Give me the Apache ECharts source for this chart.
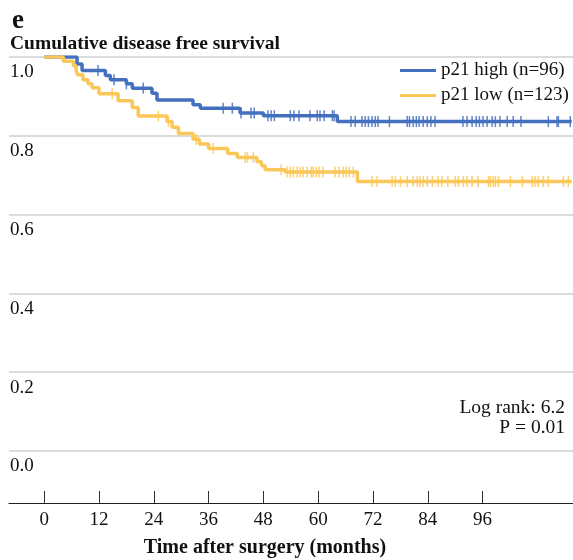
<!DOCTYPE html>
<html><head><meta charset="utf-8">
<script src="https://cdn.jsdelivr.net/npm/echarts@6/dist/echarts.min.js"></script>
<style>html,body{margin:0;padding:0;background:#fff}#c{width:573px;height:560px}</style>
</head><body><div id="c"></div>
<script>
// ---- data ----
const highName = 'p21 high (n=96)';
const lowName = 'p21 low (n=123)';
const highTimes = [0, 7.2, 8.3, 13.4, 14.5, 18.0, 19.3, 23.6, 24.7, 32.6, 34.2, 42.9, 48.0, 64.2];
const highSurv  = [1.0, 0.982, 0.966, 0.953, 0.942, 0.932, 0.921, 0.908, 0.891, 0.879, 0.870, 0.858, 0.851, 0.836];
const lowTimes = [0, 4.2, 6.4, 7.0, 7.3, 8.5, 9.6, 10.5, 12.0, 16.2, 19.3, 20.6, 26.9, 28.0, 29.4, 32.6, 34.0, 36.0, 40.2, 42.3, 46.6, 47.6, 48.4, 52.8, 68.6];
const lowSurv  = [1.0, 0.989, 0.978, 0.966, 0.955, 0.942, 0.932, 0.922, 0.907, 0.889, 0.872, 0.850, 0.836, 0.822, 0.806, 0.791, 0.779, 0.768, 0.755, 0.745, 0.734, 0.724, 0.714, 0.708, 0.684];
const followUpEnd = 115.5;
const highCensored = [11.8, 15.3, 18.0, 21.7, 39.2, 41.2, 43.1, 45.3, 46.0, 49.0, 49.7, 50.4, 53.9, 54.7, 55.8, 58.2, 59.8, 60.4, 61.3, 63.1, 63.5, 67.2, 68.1, 69.6, 70.3, 71.0, 71.8, 72.5, 73.1, 75.6, 79.5, 80.0, 80.8, 81.5, 82.1, 83.0, 83.9, 84.7, 85.6, 91.7, 92.6, 93.7, 94.6, 95.3, 96.1, 97.0, 98.1, 98.8, 99.8, 101.4, 102.7, 104.4, 110.4, 112.3, 112.6, 115.2];
const lowCensored = [14.9, 25.0, 27.2, 33.3, 37.0, 44.0, 44.5, 45.8, 51.9, 53.2, 53.9, 54.5, 55.4, 56.1, 56.7, 57.6, 58.5, 58.9, 59.6, 60.2, 61.1, 63.7, 64.6, 65.5, 66.1, 66.8, 67.7, 71.8, 72.9, 76.2, 76.9, 78.0, 79.5, 80.8, 81.7, 82.3, 83.0, 83.9, 85.0, 86.3, 87.1, 88.4, 90.0, 90.7, 91.8, 92.6, 93.7, 95.0, 97.3, 97.7, 98.3, 98.8, 99.5, 102.1, 104.7, 106.9, 107.5, 108.2, 109.3, 110.4, 113.7, 114.8];
const xTicks = [0, 12, 24, 36, 48, 60, 72, 84, 96];
const logRankText = ['Log rank: 6.2', 'P = 0.01'];

// ---- helpers ----
function stepData(times, surv, end) {
  const pts = times.map((t, i) => [t, surv[i]]);
  pts.push([end, surv[surv.length - 1]]);
  return pts;
}
function survAt(times, surv, t) {
  let v = surv[0];
  for (let i = 0; i < times.length; i++) { if (times[i] <= t) v = surv[i]; }
  return v;
}
function censorData(cens, times, surv) { return cens.map(t => [t, survAt(times, surv, t)]); }

const BLUE = '#4470c0';
const GOLD = '#fac858';
const FONT = "'Liberation Serif', 'Times New Roman', serif";

const chart = echarts.init(document.getElementById('c'), null, {renderer: 'canvas'});
chart.setOption({
  animation: false,
  backgroundColor: '#fff',
  textStyle: {fontFamily: FONT, color: '#111'},
  grid: {left: 9, right: 0, top: 57, bottom: 109, containLabel: false},
  legend: {
    orient: 'vertical', left: 400, top: 61, itemWidth: 36, itemHeight: 3, itemGap: 6,
    icon: 'rect', padding: 0, data: [highName, lowName],
    textStyle: {fontFamily: FONT, fontSize: 19, color: '#111'}
  },
  xAxis: {
    type: 'value', min: -7.7, max: 115.8, offset: 52,
    axisLine: {show: true, onZero: false, lineStyle: {color: '#222', width: 1.2}},
    axisTick: {show: true, inside: true, length: 12, customValues: xTicks, lineStyle: {color: '#333', width: 1}},
    axisLabel: {customValues: xTicks, margin: 8, fontFamily: FONT, fontSize: 19, color: '#111'},
    splitLine: {show: false}
  },
  yAxis: {
    type: 'value', min: 0, max: 1, interval: 0.2,
    axisLine: {show: false}, axisTick: {show: false},
    splitLine: {show: true, lineStyle: {color: '#d0d0d0', width: 1.5}},
    axisLabel: {inside: true, align: 'left', verticalAlign: 'top', margin: 1, padding: [6, 0, 0, 0],
      fontFamily: FONT, fontSize: 19, color: '#111', formatter: v => v.toFixed(1)}
  },
  series: [
    {name: highName, type: 'line', step: 'end', symbol: 'none', z: 2,
     color: BLUE, lineStyle: {color: BLUE, width: 3.5}, data: stepData(highTimes, highSurv, followUpEnd)},
    {name: 'highCensor', type: 'scatter', symbol: 'rect', symbolSize: [1.5, 11], z: 3,
     itemStyle: {color: BLUE, opacity: 0.85}, data: censorData(highCensored, highTimes, highSurv)},
    {name: lowName, type: 'line', step: 'end', symbol: 'none', z: 4,
     color: GOLD, lineStyle: {color: GOLD, width: 3.5}, data: stepData(lowTimes, lowSurv, followUpEnd)},
    {name: 'lowCensor', type: 'scatter', symbol: 'rect', symbolSize: [1.5, 11], z: 5,
     itemStyle: {color: GOLD, opacity: 0.85}, data: censorData(lowCensored, lowTimes, lowSurv)}
  ],
  graphic: [
    {type: 'text', x: 12, y: 8, style: {text: 'e', font: "bold 27px " + FONT, fill: '#111'}},
    {type: 'text', x: 10, y: 34, style: {text: 'Cumulative disease free survival', font: "bold 19.5px " + FONT, fill: '#111'}},
    {type: 'text', x: 565, y: 398, style: {text: logRankText.join('\n'), font: "19.5px " + FONT, fill: '#111', align: 'right', lineHeight: 20}},
    {type: 'text', x: 265, y: 538, style: {text: 'Time after surgery (months)', font: "bold 20px " + FONT, fill: '#111', align: 'center'}}
  ]
});
</script>
</body></html>
